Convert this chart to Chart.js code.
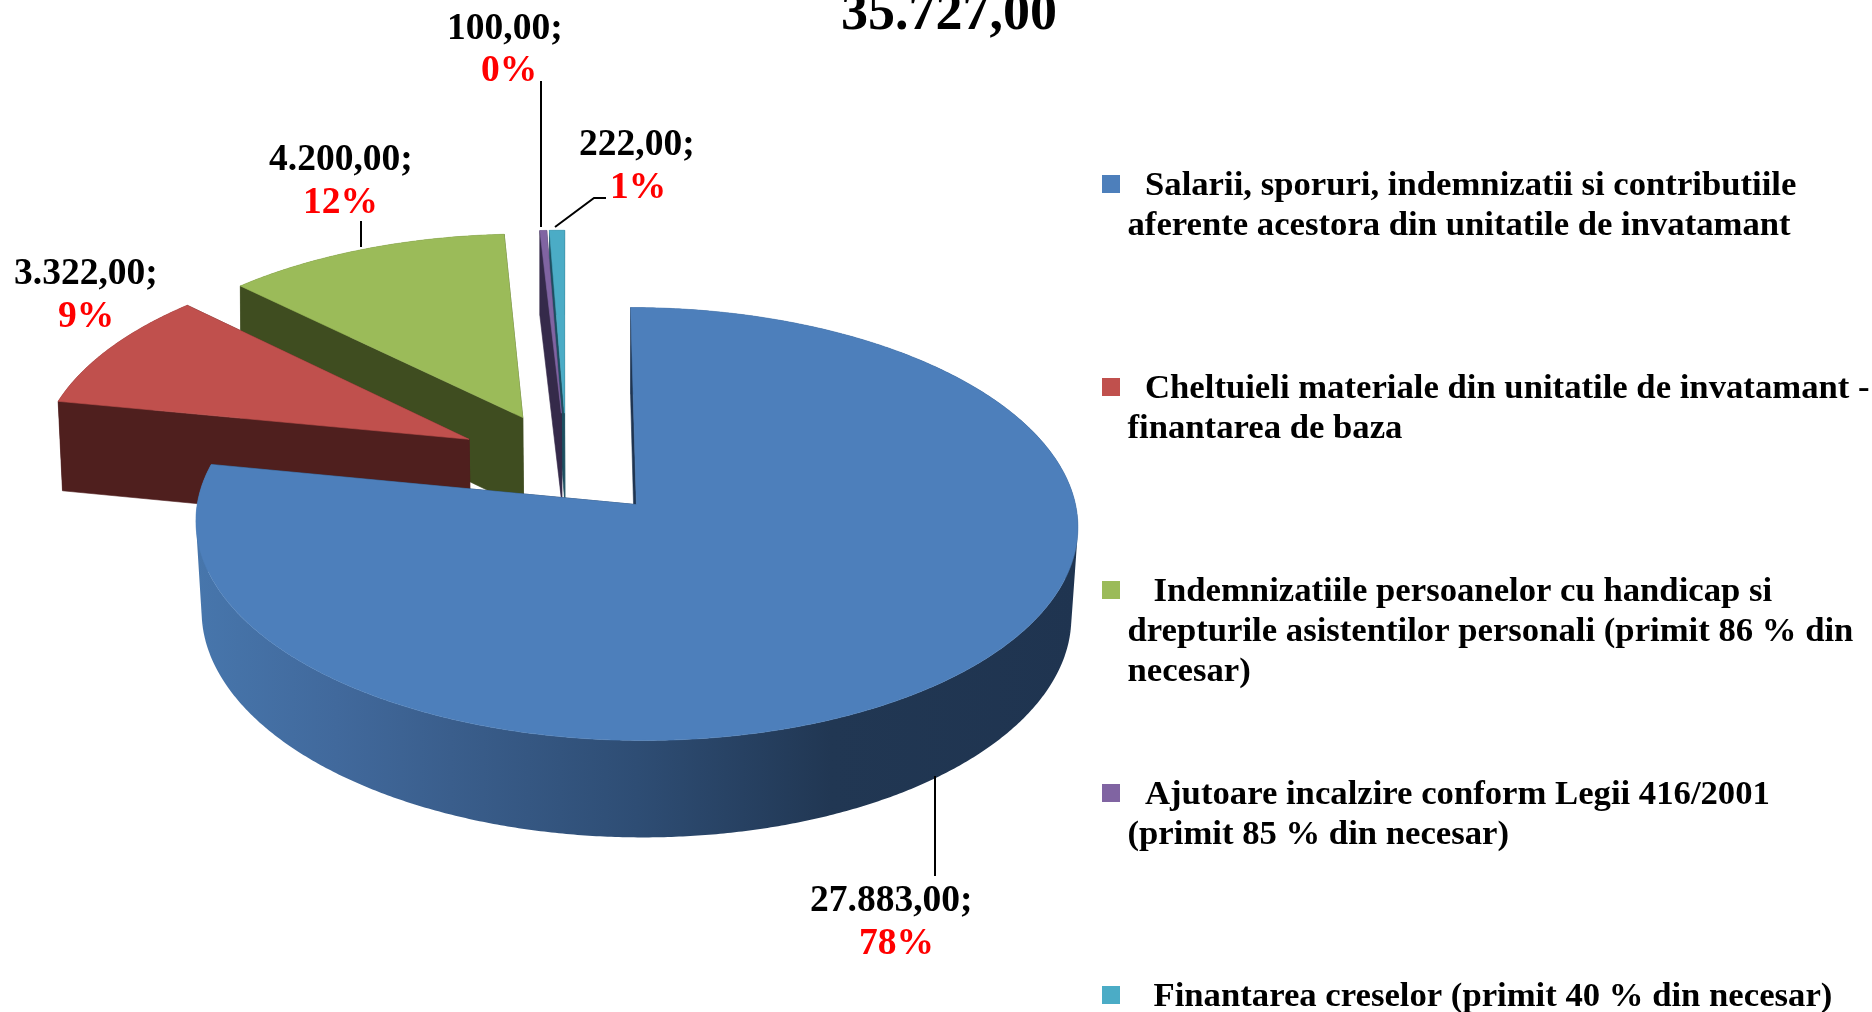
<!DOCTYPE html>
<html>
<head>
<meta charset="utf-8">
<style>html,body{margin:0;padding:0;background:#fff;overflow:hidden}canvas{display:block}</style>
<script src="https://cdn.jsdelivr.net/npm/chart.js@4"></script>
</head>
<body>
<canvas id="c" width="1872" height="1012"></canvas>
<script>
const categories = [
  ["Salarii, sporuri, indemnizatii si contributiile", "aferente acestora din unitatile de invatamant"],
  ["Cheltuieli materiale din unitatile de invatamant -", "finantarea de baza"],
  ["Indemnizatiile persoanelor cu handicap si", "drepturile asistentilor personali (primit 86 % din", "necesar)"],
  ["Ajutoare incalzire conform Legii 416/2001", "(primit 85 % din necesar)"],
  ["Finantarea creselor (primit 40 % din necesar)"]
];
const values = [27883, 3322, 4200, 100, 222];
const topColors = ["#4d7fbb", "#c0504d", "#9bbb59", "#8064a2", "#4bacc6"];
const wallColors = ["#1f3450", "#4f1f1e", "#3f4d20", "#352a4a", "#1c4f60"];

// layout of text (not data)
const legendLayout = {
  square: 18, squareX: 1102, lineH: 40, contX: 1127.5,
  firstX: [1145, 1145, 1153.5, 1145, 1153.5],
  baseline: [195, 398, 601, 804, 1006],
  font: 'bold 34.7px "Liberation Serif"'
};
const labelLayout = [
  {vx: 810, vy: 911, px: 859, py: 954, line: [[935, 776], [935, 876]]},
  {vx: 14, vy: 283.5, px: 58, py: 326.5, line: null},
  {vx: 269, vy: 169.5, px: 303, py: 212.5, line: [[361, 221], [361, 247]]},
  {vx: 447, vy: 39, px: 481, py: 80.5, line: [[541, 81], [541, 227]]},
  {vx: 579, vy: 155, px: 610, py: 198, line: [[555, 227], [594, 198], [606, 198]]}
];
const VIEW = {X0: 566.5, Y0: 463.9, A: 431.7, B: 207.5, C: 0.088, depth: 91, depthK: 0.055, VX: 610};
const explodePx = [100, 103, 100, 100, 100];
const RADIUS_PX = 400;

function topPt(a, b) {
  const w = 1 + VIEW.C * b;
  return {x: VIEW.X0 + VIEW.A * a / w, y: VIEW.Y0 - VIEW.B * b / w};
}
function botPt(a, b) {
  const p = topPt(a, b), s = 1 - Math.max(0, 0.011 - 0.01 * b);
  return {x: VIEW.VX + (p.x - VIEW.VX) * s, y: p.y + VIEW.depth * (1 - VIEW.depthK * b)};
}
function poly(ctx, pts, fill) {
  ctx.beginPath();
  pts.forEach((p, i) => i ? ctx.lineTo(p.x, p.y) : ctx.moveTo(p.x, p.y));
  ctx.closePath();
  ctx.fillStyle = fill; ctx.strokeStyle = fill; ctx.lineWidth = 0.6;
  ctx.fill(); ctx.stroke();
}
// the outer wall as one path of quads that all turn the same way, so there are no seams
function rimWall(ctx, rimT, rimB, fill) {
  ctx.beginPath();
  for (let k = 0; k < rimT.length - 1; k++) {
    let q = [rimT[k], rimT[k + 1], rimB[k + 1], rimB[k]], area = 0;
    q.forEach((p, j) => { const r = q[(j + 1) % 4]; area += p.x * r.y - r.x * p.y; });
    if (area < 0) q = q.reverse();
    q.forEach((p, j) => j ? ctx.lineTo(p.x, p.y) : ctx.moveTo(p.x, p.y));
    ctx.closePath();
  }
  ctx.fillStyle = fill;
  ctx.fill('nonzero');
}
const fmt = v => String(v).replace(/\B(?=(\d{3})+$)/g, '.') + ',00';

const pie3d = {
  id: 'pie3d',
  beforeDatasetsDraw(chart) {
    const ctx = chart.ctx, arcs = chart.getDatasetMeta(0).data;
    const order = [4, 3, 2, 1, 0];
    ctx.save();
    ctx.lineJoin = 'round';
    order.forEach(i => {
      const el = arcs[i], R = el.outerRadius, e = el.options.offset / R;
      const t1 = el.startAngle + Math.PI / 2, t2 = el.endAngle + Math.PI / 2, mid = (t1 + t2) / 2;
      const ox = e * Math.sin(mid), oy = e * Math.cos(mid);
      const n = Math.max(2, Math.ceil((t2 - t1) / 0.008));
      const rimT = [], rimB = [];
      for (let k = 0; k <= n; k++) {
        const t = t1 + (t2 - t1) * k / n, a = ox + Math.sin(t), b = oy + Math.cos(t);
        rimT.push(topPt(a, b)); rimB.push(botPt(a, b));
      }
      const aT = topPt(ox, oy), aB = botPt(ox, oy);
      let rimFill = wallColors[i];
      if (i === 0) {
        const g = ctx.createLinearGradient(195, 0, 1079, 0);
        g.addColorStop(0, '#4776ac'); g.addColorStop(0.16, '#41699c');
        g.addColorStop(0.29, '#3a5e8c'); g.addColorStop(0.5, '#2e4d74');
        g.addColorStop(0.72, '#213753'); g.addColorStop(1, '#1f3450');
        rimFill = g;
      }
      poly(ctx, [aT, rimT[n], rimB[n], aB], wallColors[i]);
      rimWall(ctx, rimT, rimB, rimFill);
      poly(ctx, [aT, rimT[0], rimB[0], aB], wallColors[i]);
      poly(ctx, [aT].concat(rimT), topColors[i]);
    });
    ctx.restore();
    return false;
  },
  afterDraw(chart) {
    const ctx = chart.ctx, total = values.reduce((s, v) => s + v, 0);
    ctx.save();
    ctx.textBaseline = 'alphabetic'; ctx.textAlign = 'left';
    ctx.fillStyle = '#000';
    ctx.font = 'bold 54px "Liberation Serif"';
    ctx.fillText(fmt(total), 841, 29);
    ctx.strokeStyle = '#000'; ctx.lineWidth = 2;
    values.forEach((v, i) => {
      const L = labelLayout[i];
      if (L.line) {
        ctx.beginPath();
        L.line.forEach((p, k) => k ? ctx.lineTo(p[0], p[1]) : ctx.moveTo(p[0], p[1]));
        ctx.stroke();
      }
      ctx.font = 'bold 37.5px "Liberation Serif"';
      ctx.fillStyle = '#000';
      ctx.fillText(fmt(v) + ';', L.vx, L.vy);
      ctx.fillStyle = '#ff0000';
      ctx.fillText(Math.round(v / total * 100) + '%', L.px, L.py);
    });
    const G = legendLayout;
    ctx.font = G.font;
    categories.forEach((lines, i) => {
      ctx.fillStyle = topColors[i];
      ctx.fillRect(G.squareX, G.baseline[i] - 20, G.square, G.square);
      ctx.fillStyle = '#000';
      lines.forEach((t, k) => {
        ctx.fillText(t, k ? G.contX : G.firstX[i], G.baseline[i] + k * G.lineH);
      });
    });
    ctx.restore();
  }
};

new Chart(document.getElementById('c'), {
  type: 'pie',
  data: {
    labels: categories.map(l => l.join(' ')),
    datasets: [{data: values, backgroundColor: topColors, borderWidth: 0, offset: explodePx}]
  },
  options: {
    responsive: false,
    animation: false,
    events: [],
    radius: RADIUS_PX,
    layout: {padding: 0},
    plugins: {legend: {display: false}, tooltip: {enabled: false}, title: {display: false}}
  },
  plugins: [pie3d]
});
</script>
</body>
</html>
